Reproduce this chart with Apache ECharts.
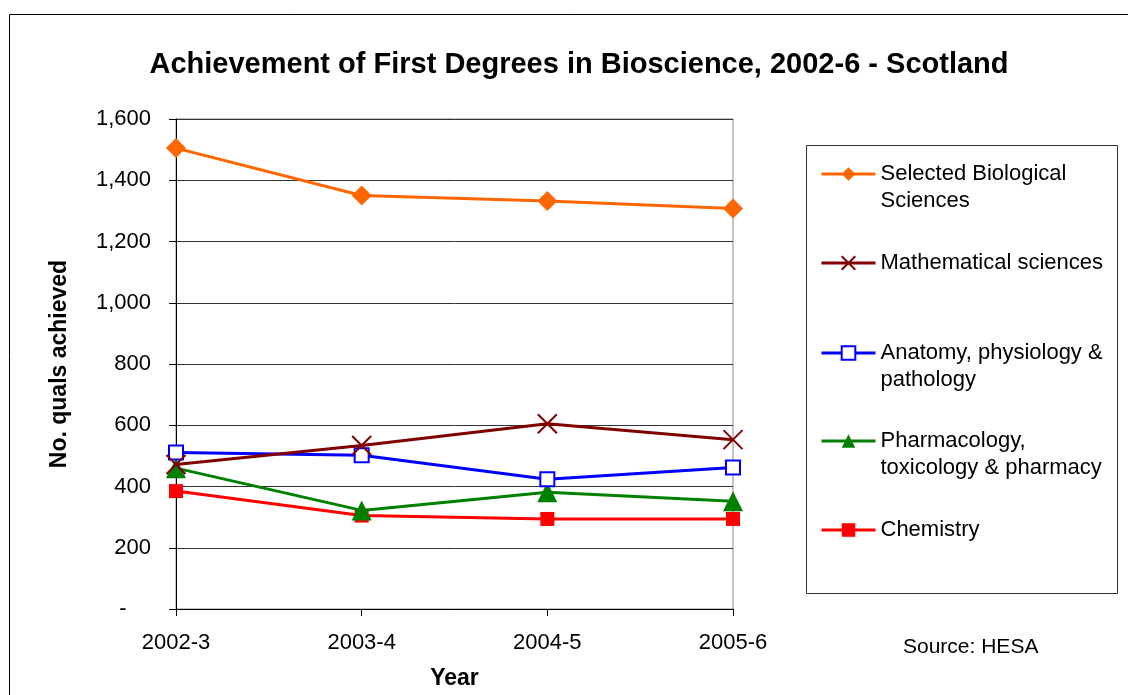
<!DOCTYPE html>
<html>
<head>
<meta charset="utf-8">
<script src="https://cdn.jsdelivr.net/npm/echarts@6/dist/echarts.min.js"></script>
<style>
html,body{margin:0;padding:0;background:#fff;}
#main{width:1128px;height:695px;}
</style>
</head>
<body>
<div id="main"></div>
<script>
const categories = ['2002-3', '2003-4', '2004-5', '2005-6'];
const yTicks = [0, 200, 400, 600, 800, 1000, 1200, 1400, 1600];
const seriesNames = ['Selected Biological\nSciences', 'Mathematical sciences', 'Anatomy, physiology &\npathology', 'Pharmacology,\ntoxicology & pharmacy', 'Chemistry'];
const bioValues = [1505, 1350, 1332, 1308];
const mathValues = [472, 534, 605, 553];
const anatomyValues = [511, 502, 424, 462];
const pharmValues = [460, 322, 381, 352];
const chemValues = [385, 305, 294, 294];

const FONT = '"Liberation Sans", Arial, sans-serif';
const LH = 27;
const crossPath = 'path://M0,0L10,10M10,0L0,10';

const chart = echarts.init(document.getElementById('main'), null, {renderer: 'canvas'});

const styles = [
  {color: '#FF6600', symbol: 'diamond', size: 20, item: {color: '#FF6600'}},
  {color: '#800000', symbol: crossPath, size: 19, item: {color: 'none', borderColor: '#800000', borderWidth: 2}},
  {color: '#0000FF', symbol: 'rect', size: 14, item: {color: '#fff', borderColor: '#0000FF', borderWidth: 2}},
  {color: '#008000', symbol: 'triangle', size: 20, item: {color: '#008000'}},
  {color: '#FF0000', symbol: 'rect', size: 14, item: {color: '#FF0000'}}
];
const valueArrays = [bioValues, mathValues, anatomyValues, pharmValues, chemValues];
const legendCentres = [174, 263, 353, 441, 530];

const series = seriesNames.map((name, i) => ({
  name: name,
  type: 'line',
  data: valueArrays[i],
  symbol: styles[i].symbol,
  symbolSize: styles[i].size,
  showAllSymbol: true,
  lineStyle: {color: styles[i].color, width: 3},
  itemStyle: styles[i].item,
  z: 10 - i,
  animation: false
}));

const legends = seriesNames.map((name, i) => {
  const twoLine = name.indexOf('\n') >= 0;
  return {
    left: 820,
    top: twoLine ? legendCentres[i] - LH * 1.5 : legendCentres[i] - LH / 2,
    padding: 0,
    itemWidth: 54,
    itemHeight: 17,
    itemGap: 0,
    selectedMode: false,
    lineStyle: {width: 3},
    formatter: n => (twoLine ? '\n' + n : n),
    data: [name],
    textStyle: {fontFamily: FONT, fontSize: 22, color: '#000', lineHeight: LH}
  };
});

chart.setOption({
  backgroundColor: '#fff',
  animation: false,
  title: {
    text: 'Achievement of First Degrees in Bioscience, 2002-6 - Scotland',
    left: 574,
    top: 45,
    textAlign: 'center',
    textStyle: {fontFamily: FONT, fontSize: 29, fontWeight: 'bold', color: '#000'}
  },
  legend: legends,
  grid: {left: 176, right: 395, top: 119, bottom: 84, show: true, borderColor: '#888', borderWidth: 1, containLabel: false},
  xAxis: {
    type: 'category',
    data: categories,
    boundaryGap: false,
    name: 'Year',
    nameLocation: 'middle',
    nameGap: 58,
    nameTextStyle: {fontFamily: FONT, fontSize: 23, fontWeight: 'bold', color: '#000'},
    axisLine: {lineStyle: {color: '#000', width: 1}},
    axisTick: {show: true, inside: false, length: 7, lineStyle: {color: '#000'}},
    axisLabel: {fontFamily: FONT, fontSize: 22, color: '#000', margin: 23},
    splitLine: {show: false}
  },
  yAxis: {
    type: 'value',
    min: yTicks[0],
    max: yTicks[yTicks.length - 1],
    interval: yTicks[1] - yTicks[0],
    name: 'No. quals achieved',
    nameLocation: 'middle',
    nameGap: 105,
    nameRotate: 90,
    nameTextStyle: {fontFamily: FONT, fontSize: 23, fontWeight: 'bold', color: '#000', padding: [0, 0, 0, 0]},
    axisLine: {show: true, lineStyle: {color: '#000', width: 1}},
    axisTick: {show: true, inside: false, length: 7, lineStyle: {color: '#000'}},
    axisLabel: {
      fontFamily: FONT, fontSize: 22, color: '#000', margin: 25,
      formatter: v => v === 0 ? '-    ' : v.toLocaleString('en-US')
    },
    splitLine: {show: true, lineStyle: {color: '#333', width: 1}}
  },
  graphic: [
    {type: 'rect', shape: {x: 9.5, y: 14.5, width: 1200, height: 1000}, style: {fill: 'none', stroke: '#000', lineWidth: 1}, silent: true, z: -10},
    {type: 'rect', shape: {x: 806.5, y: 145.5, width: 311, height: 448}, style: {fill: 'none', stroke: '#333', lineWidth: 1}, silent: true, z: -5},
    {type: 'text', left: 903, top: 637, style: {text: 'Source: HESA', fontFamily: FONT, fontSize: 21, fill: '#000'}}
  ],
  series: series
});
</script>
</body>
</html>
